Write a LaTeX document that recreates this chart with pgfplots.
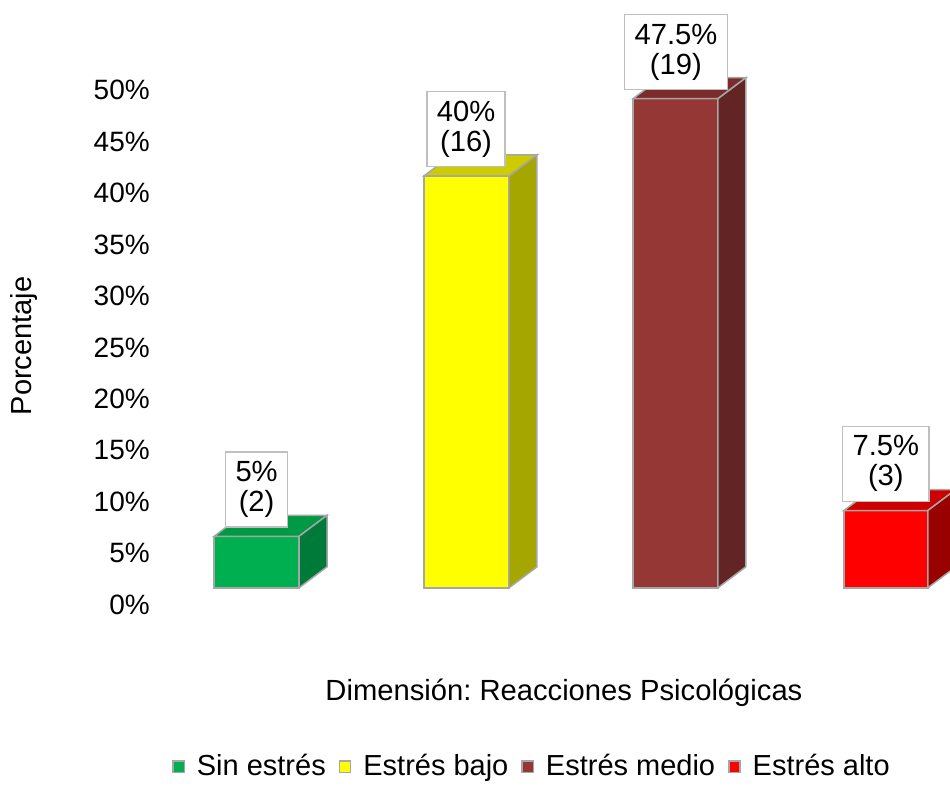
\documentclass[border=0pt]{standalone}
\usepackage{pgfplots}
\pgfplotsset{compat=1.18}
\usepackage{fontspec}
\setmainfont{Liberation Sans}
\frenchspacing
\definecolor{gF}{HTML}{00B050}\definecolor{gT}{HTML}{009A45}\definecolor{gS}{HTML}{007A38}
\definecolor{yF}{HTML}{FFFF00}\definecolor{yT}{HTML}{CCCC00}\definecolor{yS}{HTML}{A6A600}
\definecolor{bF}{HTML}{953735}\definecolor{bT}{HTML}{7B2C2A}\definecolor{bS}{HTML}{632523}
\definecolor{rF}{HTML}{FF0000}\definecolor{rT}{HTML}{CC0000}\definecolor{rS}{HTML}{990000}
\definecolor{edge}{HTML}{A6A6A6}
\definecolor{boxedge}{HTML}{BFBFBF}
\begin{document}
\begin{tikzpicture}
\begin{axis}[
  scale only axis, width=475pt, height=390pt,
  xmin=0, xmax=950, ymin=-16.99, ymax=58.74,
  axis line style={draw=none},
  xtick=\empty,
  ytick={0,5,...,50},
  major tick length=0pt,
  /pgf/number format/assume math mode=true,
  yticklabel={\pgfmathprintnumber{\tick}\%},
  yticklabel style={anchor=east, xshift=75pt, inner sep=0pt, font=\fontsize{14}{16}\selectfont},
  clip=true,
  legend columns=4,
  legend style={at={(axis cs:533,-15.73)}, anchor=center, draw=none, fill=none,
    font=\fontsize{14.5}{16}\selectfont,
    /tikz/every even column/.append style={column sep=4.5pt},
    /tikz/every odd column/.append style={column sep=4pt}},
  legend cell align=left,
]
% ---- Sin estres: 5% (2)
\addplot[forget plot, fill=gF, draw=edge, line width=0.75pt] coordinates {(214,1.65) (299,1.65) (299,6.65) (214,6.65)} -- cycle;
\addplot[forget plot, fill=gT, draw=edge, line width=0.75pt] coordinates {(214,6.65) (242,8.69) (327,8.69) (299,6.65)} -- cycle;
\addplot[forget plot, fill=gS, draw=edge, line width=0.75pt] coordinates {(299,1.65) (327,3.69) (327,8.69) (299,6.65)} -- cycle;
% ---- Estres bajo: 40% (16)
\addplot[forget plot, fill=yF, draw=edge, line width=0.75pt] coordinates {(424,1.65) (509,1.65) (509,41.65) (424,41.65)} -- cycle;
\addplot[forget plot, fill=yT, draw=edge, line width=0.75pt] coordinates {(424,41.65) (452,43.69) (537,43.69) (509,41.65)} -- cycle;
\addplot[forget plot, fill=yS, draw=edge, line width=0.75pt] coordinates {(509,1.65) (537,3.69) (537,43.69) (509,41.65)} -- cycle;
% ---- Estres medio: 47.5% (19)
\addplot[forget plot, fill=bF, draw=edge, line width=0.75pt] coordinates {(633,1.65) (718,1.65) (718,49.15) (633,49.15)} -- cycle;
\addplot[forget plot, fill=bT, draw=edge, line width=0.75pt] coordinates {(633,49.15) (661,51.19) (746,51.19) (718,49.15)} -- cycle;
\addplot[forget plot, fill=bS, draw=edge, line width=0.75pt] coordinates {(718,1.65) (746,3.69) (746,51.19) (718,49.15)} -- cycle;
% ---- Estres alto: 7.5% (3)
\addplot[forget plot, fill=rF, draw=edge, line width=0.75pt] coordinates {(844,1.65) (928,1.65) (928,9.15) (844,9.15)} -- cycle;
\addplot[forget plot, fill=rT, draw=edge, line width=0.75pt] coordinates {(844,9.15) (872,11.19) (956,11.19) (928,9.15)} -- cycle;
\addplot[forget plot, fill=rS, draw=edge, line width=0.75pt] coordinates {(928,1.65) (956,3.69) (956,11.19) (928,9.15)} -- cycle;
% ---- value labels
\tikzset{vlab/.style={anchor=south, fill=white, draw=boxedge, line width=0.75pt, align=center,
  inner xsep=5pt, minimum height=37.5pt, font=\fontsize{14.6}{15}\selectfont}}
\node[vlab] at (axis cs:256.5,7.48) {5\%\\(2)};
\node[vlab] at (axis cs:466,42.48) {40\%\\(16)};
\node[vlab] at (axis cs:676,49.98) {47.5\%\\(19)};
\node[vlab] at (axis cs:886,9.98) {7.5\%\\(3)};
% ---- titles
\node[rotate=90, font=\fontsize{14.5}{16}\selectfont] at (axis cs:24,25.15) {Porcentaje};
\node[font=\fontsize{14.6}{16}\selectfont] at (axis cs:564,-8.54) {Dimensión: Reacciones Psicológicas};
% ---- legend
\addlegendimage{legend image code/.code={\draw[fill=gF,draw=edge,line width=0.7pt] (0pt,-2.8pt) rectangle (5.6pt,2.8pt);}}
\addlegendentry{Sin estrés}
\addlegendimage{legend image code/.code={\draw[fill=yF,draw=edge,line width=0.7pt] (0pt,-2.8pt) rectangle (5.6pt,2.8pt);}}
\addlegendentry{Estrés bajo}
\addlegendimage{legend image code/.code={\draw[fill=bF,draw=edge,line width=0.7pt] (0pt,-2.8pt) rectangle (5.6pt,2.8pt);}}
\addlegendentry{Estrés medio}
\addlegendimage{legend image code/.code={\draw[fill=rF,draw=edge,line width=0.7pt] (0pt,-2.8pt) rectangle (5.6pt,2.8pt);}}
\addlegendentry{Estrés alto}
\end{axis}
\end{tikzpicture}
\end{document}
